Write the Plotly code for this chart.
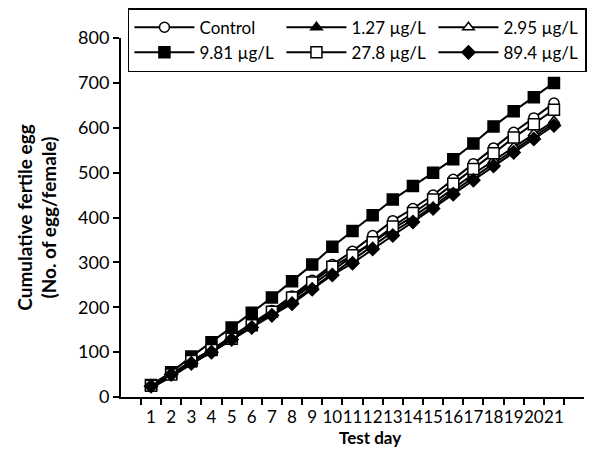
import plotly.graph_objects as go

days = [str(d) for d in range(1, 22)]

control = [25, 50, 80, 105, 135, 163, 193, 225, 260, 295, 325, 360, 393, 420, 450, 485, 520, 555, 590, 622, 655]
c127 = [22, 47, 75, 100, 128, 157, 185, 212, 243, 275, 305, 338, 368, 395, 425, 458, 490, 520, 550, 580, 610]
c295 = [20, 45, 73, 100, 128, 158, 188, 218, 250, 282, 312, 345, 375, 402, 432, 465, 497, 527, 557, 587, 615]
c981 = [27, 55, 90, 122, 155, 188, 222, 258, 295, 335, 370, 405, 440, 470, 500, 530, 565, 603, 637, 668, 700]
c278 = [25, 50, 80, 105, 130, 160, 190, 222, 255, 290, 316, 345, 380, 410, 440, 475, 508, 543, 578, 608, 640]
c894 = [24, 50, 75, 100, 128, 155, 182, 208, 240, 272, 298, 330, 360, 390, 420, 452, 483, 515, 545, 575, 605]

names = ["Control", "1.27 µg/L", "2.95 µg/L", "9.81 µg/L", "27.8 µg/L", "89.4 µg/L"]
series = [control, c127, c295, c981, c278, c894]
symbols = ["circle-open", "triangle-up", "triangle-up-open", "square", "square-open", "diamond"]

fig = go.Figure()
for name, vals, sym in zip(names, series, symbols):
    filled = not sym.endswith("open")
    fig.add_trace(go.Scatter(
        x=days, y=vals, name=name, mode="lines+markers",
        line=dict(color="black", width=2),
        marker=dict(symbol=sym.replace("-open", ""), size=11 if "square" in sym else 10,
                    color="black" if filled else "white",
                    line=dict(color="black", width=1.5)),
    ))

# x title as annotation (Excel centers it a bit right of the plot middle)
fig.add_annotation(text="<b>Test day</b>", xref="paper", yref="paper", x=0.538, y=-0.112,
                   showarrow=False, yanchor="middle", font=dict(size=17))

font = "Lato, 'Open Sans', sans-serif"
fig.update_layout(
    width=596, height=445,
    margin=dict(l=113, r=20, t=30, b=56, autoexpand=False),
    paper_bgcolor="white", plot_bgcolor="white",
    font=dict(family=font, size=17, color="black"),
    showlegend=True,
    legend=dict(orientation="h", x=0.015, y=1.083, xanchor="left", yanchor="top",
                entrywidth=77, bordercolor="black", borderwidth=1.5, bgcolor="white",
                font=dict(size=17), tracegroupgap=0, itemwidth=60),
    xaxis=dict(type="category", showline=True, linecolor="black", linewidth=2,
               ticks="outside", tickson="boundaries", ticklen=6, tickwidth=2, tickcolor="black",
               showgrid=False, tickfont=dict(size=17), tickangle=0, ticklabelstandoff=4),
    yaxis=dict(range=[0, 800], dtick=100, showline=True, linecolor="black", linewidth=2,
               ticks="outside", ticklen=6, tickwidth=2, tickcolor="black",
               showgrid=False, zeroline=False, tickfont=dict(size=18),
               title=dict(text="<b>Cumulative fertile egg<br>(No. of egg/female)</b>",
                          font=dict(size=19), standoff=16)),
)

fig.write_html("out.html")
